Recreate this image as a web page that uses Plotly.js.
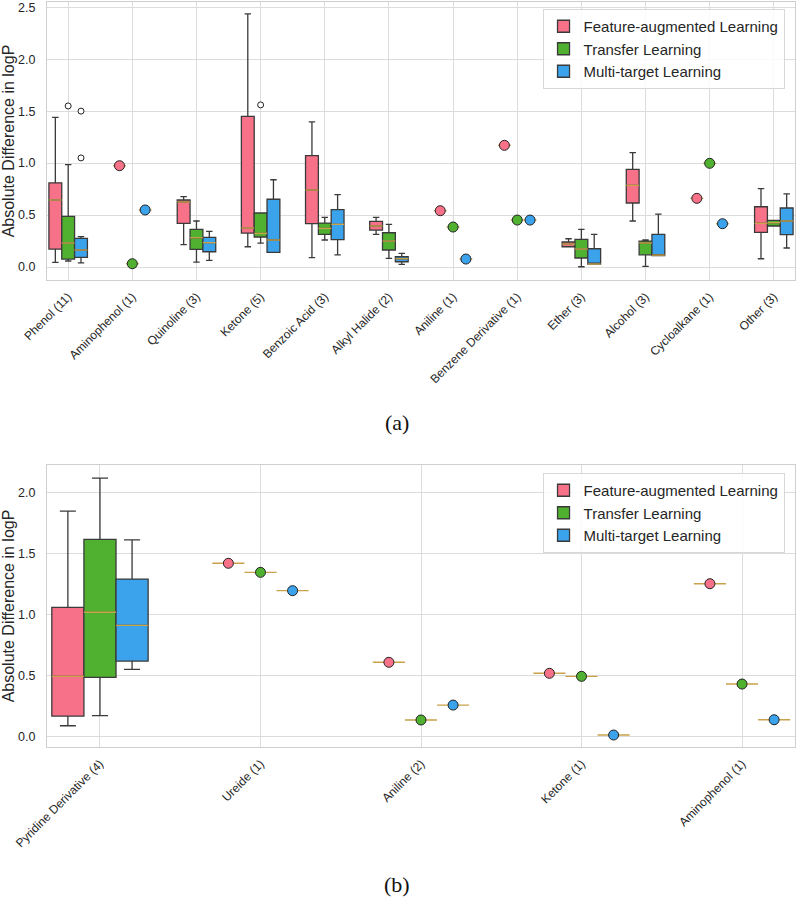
<!DOCTYPE html>
<html>
<head>
<meta charset="utf-8">
<script src="https://cdn.plot.ly/plotly-3.0.1.min.js"></script>
<style>html,body{margin:0;padding:0;background:#fff;}#chart{width:797px;height:904px;}</style>
</head>
<body>
<div id="chart"></div>
<script>
// ---------- Panel (a) ----------
const catNamesA = ["Phenol", "Aminophenol", "Quinoline", "Ketone", "Benzoic Acid", "Alkyl Halide", "Aniline", "Benzene Derivative", "Ether", "Alcohol", "Cycloalkane", "Other"];
const catCountsA = [11, 1, 3, 5, 3, 2, 1, 1, 3, 3, 1, 3];

// Feature-augmented Learning (null quartiles = single value shown as a point)
const faLoA  = [0.045, null, 0.215, 0.195, 0.090, 0.315, null, null, 0.195, 0.443, null, 0.080];
const faQ1A  = [0.173, null, 0.420, 0.327, 0.417, 0.356, null, null, 0.195, 0.616, null, 0.334];
const faMedA = [0.645, 0.975, 0.626, 0.375, 0.741, 0.395, 0.542, 1.171, 0.221, 0.786, 0.661, 0.420];
const faQ3A  = [0.810, null, 0.645, 1.450, 1.071, 0.440, null, null, 0.241, 0.940, null, 0.580];
const faHiA  = [1.440, null, 0.677, 2.435, 1.396, 0.478, null, null, 0.272, 1.100, null, 0.754];

// Transfer Learning
const tlLoA  = [0.058, null, 0.048, 0.231, 0.260, 0.084, null, null, 0.003, 0.007, null, 0.395];
const tlQ1A  = [0.077, null, 0.170, 0.289, 0.315, 0.164, null, null, 0.087, 0.118, null, 0.395];
const tlMedA = [0.231, 0.032, 0.282, 0.324, 0.372, 0.250, 0.385, 0.452, 0.173, 0.231, 0.998, 0.427];
const tlQ3A  = [0.488, null, 0.363, 0.520, 0.423, 0.330, null, null, 0.266, 0.250, null, 0.449];
const tlHiA  = [0.985, null, 0.443, 0.520, 0.478, 0.411, null, null, 0.363, 0.260, null, 0.449];

// Multi-target Learning
const mtLoA  = [0.040, null, 0.064, 0.141, 0.118, 0.026, null, null, 0.029, 0.109, null, 0.183];
const mtQ1A  = [0.093, null, 0.147, 0.141, 0.263, 0.051, null, null, 0.029, 0.109, null, 0.311];
const mtMedA = [0.164, 0.549, 0.234, 0.260, 0.411, 0.080, 0.077, 0.452, 0.029, 0.115, 0.417, 0.443];
const mtQ3A  = [0.276, null, 0.286, 0.652, 0.552, 0.099, null, null, 0.176, 0.315, null, 0.568];
const mtHiA  = [0.292, null, 0.344, 0.840, 0.696, 0.132, null, null, 0.315, 0.510, null, 0.703];

// Outliers (category index, value)
const faOutCatA = [];      const faOutValA = [];
const tlOutCatA = [0, 3];  const tlOutValA = [1.55, 1.56];
const mtOutCatA = [0, 0];  const mtOutValA = [1.50, 1.05];

// ---------- Panel (b) ----------
const catNamesB = ["Pyridine Derivative", "Ureide", "Aniline", "Ketone", "Aminophenol"];
const catCountsB = [4, 1, 2, 1, 1];

const faLoB  = [0.090, null, null, null, null];
const faQ1B  = [0.169, null, null, null, null];
const faMedB = [0.494, 1.419, 0.609, 0.519, 1.252];
const faQ3B  = [1.059, null, null, null, null];
const faHiB  = [1.845, null, null, null, null];

const tlLoB  = [0.172, null, null, null, null];
const tlQ1B  = [0.486, null, null, null, null];
const tlMedB = [1.018, 1.345, 0.137, 0.494, 0.431];
const tlQ3B  = [1.615, null, null, null, null];
const tlHiB  = [2.115, null, null, null, null];

const mtLoB  = [0.551, null, null, null, null];
const mtQ1B  = [0.619, null, null, null, null];
const mtMedB = [0.911, 1.195, 0.259, 0.014, 0.139];
const mtQ3B  = [1.290, null, null, null, null];
const mtHiB  = [1.610, null, null, null, null];

const methodNames = ["Feature-augmented Learning", "Transfer Learning", "Multi-target Learning"];
const methodColors = ["#f77189", "#50b131", "#3ba3ec"];

// ---------- Build ----------
const OFFSETS = [-0.2, 0, 0.2];
const BOXW = 0.2;
const EDGE = "#3a3a3a";
const MEDC = "#c9a24a";

function buildPanel(series, outliers, xa, ya, legendId) {
  const traces = [];
  const medTraces = [];
  const ptTraces = [];
  series.forEach((s, m) => {
    const off = OFFSETS[m];
    const bx = [], lo = [], q1 = [], md = [], q3 = [], hi = [];
    const px = [], py = [];
    const mx = [], my = [];
    s.med.forEach((v, i) => {
      const pos = i + off;
      if (s.q1[i] === null) { px.push(pos); py.push(v); }
      else { bx.push(pos); lo.push(s.lo[i]); q1.push(s.q1[i]); md.push(v); q3.push(s.q3[i]); hi.push(s.hi[i]); }
      mx.push(pos - BOXW / 2, pos + BOXW / 2, null);
      my.push(v, v, null);
    });
    traces.push({
      type: "box", name: methodNames[m], legend: legendId, legendgroup: methodNames[m],
      x: bx, lowerfence: lo, q1: q1, median: md, q3: q3, upperfence: hi,
      width: BOXW, whiskerwidth: 0.5, boxpoints: false,
      fillcolor: methodColors[m], line: { color: EDGE, width: 1.3 },
      xaxis: xa, yaxis: ya, hoverinfo: "skip"
    });
    medTraces.push({
      type: "scatter", mode: "lines", x: mx, y: my, showlegend: false,
      line: { color: MEDC, width: 1.4 }, xaxis: xa, yaxis: ya, hoverinfo: "skip"
    });
    ptTraces.push({
      type: "scatter", mode: "markers", x: px, y: py, showlegend: false,
      marker: { size: 10, color: methodColors[m], line: { color: "#222", width: 1 } },
      xaxis: xa, yaxis: ya, hoverinfo: "skip"
    });
    if (outliers && outliers[m].cat.length) {
      ptTraces.push({
        type: "scatter", mode: "markers",
        x: outliers[m].cat.map(c => c + off), y: outliers[m].val, showlegend: false,
        marker: { size: 6, color: "#fff", line: { color: "#222", width: 1 } },
        xaxis: xa, yaxis: ya, hoverinfo: "skip"
      });
    }
  });
  return traces.concat(medTraces, ptTraces);
}

const seriesA = [
  { lo: faLoA, q1: faQ1A, med: faMedA, q3: faQ3A, hi: faHiA },
  { lo: tlLoA, q1: tlQ1A, med: tlMedA, q3: tlQ3A, hi: tlHiA },
  { lo: mtLoA, q1: mtQ1A, med: mtMedA, q3: mtQ3A, hi: mtHiA }
];
const outA = [
  { cat: faOutCatA, val: faOutValA },
  { cat: tlOutCatA, val: tlOutValA },
  { cat: mtOutCatA, val: mtOutValA }
];
const seriesB = [
  { lo: faLoB, q1: faQ1B, med: faMedB, q3: faQ3B, hi: faHiB },
  { lo: tlLoB, q1: tlQ1B, med: tlMedB, q3: tlQ3B, hi: tlHiB },
  { lo: mtLoB, q1: mtQ1B, med: mtMedB, q3: mtQ3B, hi: mtHiB }
];

const data = buildPanel(seriesA, outA, "x", "y", "legend")
  .concat(buildPanel(seriesB, null, "x2", "y2", "legend2"));

const labelsA = catNamesA.map((n, i) => n + " (" + catCountsA[i] + ")");
const labelsB = catNamesB.map((n, i) => n + " (" + catCountsB[i] + ")");

const FONT = "Liberation Sans, Arial, sans-serif";
const TXT = "#262626";
const GRID = "#dcdcdc";
const FRAME = "#cfcfcf";

function xAxis(labels, anchor) {
  return {
    anchor: anchor, domain: [0, 1],
    range: [-0.33, labels.length - 0.67],
    tickvals: labels.map((_, i) => i), ticktext: labels,
    tickangle: -45, tickfont: { family: FONT, size: 12, color: TXT },
    showgrid: true, gridcolor: GRID, gridwidth: 1,
    showline: true, mirror: true, linecolor: FRAME, linewidth: 1,
    ticks: "", ticklabelstandoff: 4, zeroline: false
  };
}
function yAxis(domain, range, anchor) {
  return {
    anchor: anchor, domain: domain, range: range,
    dtick: 0.5, tick0: 0, tickformat: ".1f",
    tickfont: { family: FONT, size: 12.5, color: TXT },
    title: { text: "Absolute Difference in logP", font: { family: FONT, size: 16, color: TXT }, standoff: 3 },
    showgrid: true, gridcolor: GRID, gridwidth: 1,
    showline: true, mirror: true, linecolor: FRAME, linewidth: 1,
    ticks: "", ticklabelstandoff: 8, zeroline: false
  };
}
const legendStyle = {
  xref: "paper", yref: "paper", xanchor: "right", yanchor: "top",
  bgcolor: "rgba(255,255,255,0.85)", bordercolor: "#d8d8d8", borderwidth: 1,
  font: { family: FONT, size: 15, color: TXT }, itemwidth: 30, tracegroupgap: 0
};

const layout = {
  width: 797, height: 904,
  margin: { l: 47, r: 2, t: 2, b: 157 },
  paper_bgcolor: "#fff", plot_bgcolor: "#fff",
  showlegend: true,
  xaxis: xAxis(labelsA, "y"),
  yaxis: yAxis([0.6268, 1], [-0.125, 2.55], "x"),
  xaxis2: xAxis(labelsB, "y2"),
  yaxis2: yAxis([0, 0.3785], [-0.084, 2.223], "x2"),
  legend: Object.assign({ x: 0.986, y: 0.9906 }, legendStyle),
  legend2: Object.assign({ x: 0.986, y: 0.3678 }, legendStyle),
  annotations: [
    { text: "(a)", xref: "paper", yref: "paper", x: 0.468, y: 0.436, showarrow: false,
      xanchor: "center", yanchor: "middle", font: { family: "Liberation Serif, DejaVu Serif, serif", size: 22, color: "#111" } },
    { text: "(b)", xref: "paper", yref: "paper", x: 0.468, y: -0.185, showarrow: false,
      xanchor: "center", yanchor: "middle", font: { family: "Liberation Serif, DejaVu Serif, serif", size: 22, color: "#111" } }
  ]
};

Plotly.newPlot("chart", data, layout, { staticPlot: true, displayModeBar: false });
</script>
</body>
</html>
